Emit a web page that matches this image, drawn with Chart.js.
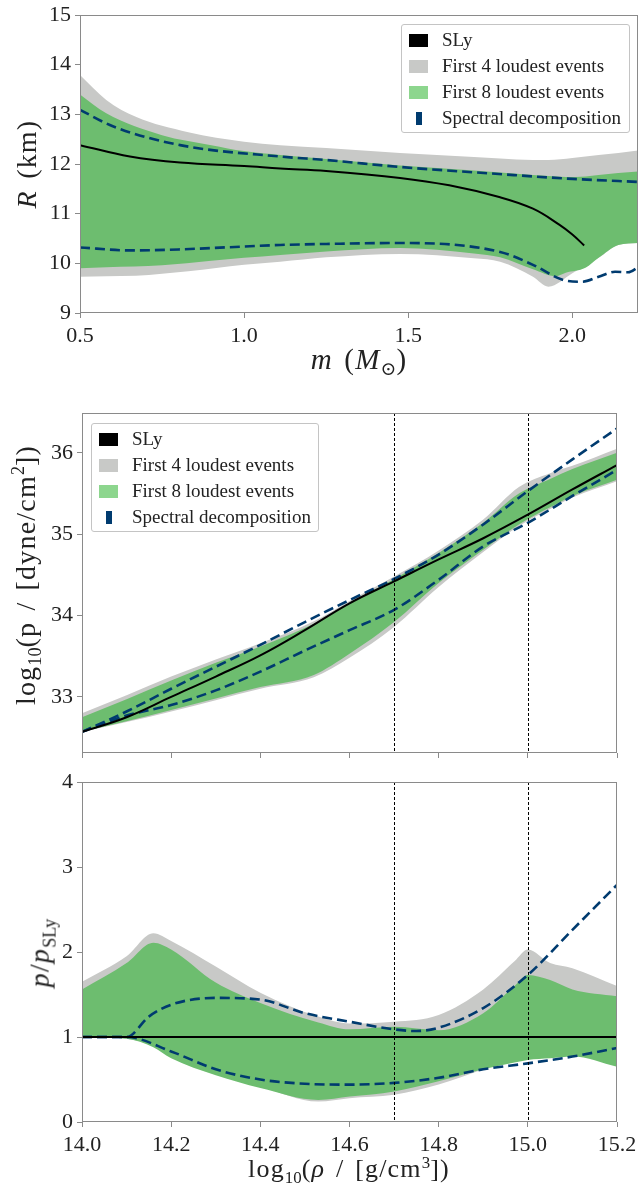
<!DOCTYPE html>
<html>
<head>
<meta charset="utf-8">
<script src="https://cdn.jsdelivr.net/npm/chart.js@4.4.0/dist/chart.umd.min.js"></script>
<style>
  body { margin: 0; background: #fff; width: 639px; height: 1188px; position: relative; overflow: hidden;
         font-family: 'Liberation Serif', 'DejaVu Serif', serif; color: #222; }
  canvas { position: absolute; left: 0; }
  .lbl { position: absolute; white-space: nowrap; transform: translate(-50%, -50%); line-height: 1;
         letter-spacing: 1.2px; word-spacing: 3px; }
  .rot { transform: translate(-50%, -50%) rotate(-90deg); }
  .lbl sub, .lbl sup { font-size: 65%; letter-spacing: 0; }
  .legend { position: absolute; border: 1px solid #c4c4c4; border-radius: 3px; background: rgba(255,255,255,0.85);
            font-size: 19px; box-sizing: border-box; }
  .row { position: absolute; left: 0; height: 20px; line-height: 20px; white-space: nowrap; }
  .patch { position: absolute; top: 4px; height: 13px; }
  .txt { position: absolute; left: 33px; }
</style>
</head>
<body>
<canvas id="mr" width="639" height="390" style="top:0"></canvas>
<canvas id="eos" width="639" height="365" style="top:400px"></canvas>
<canvas id="ratio" width="639" height="423" style="top:765px"></canvas>

<div class="lbl rot" style="left:27px;top:164px;font-size:28px"><i>R</i> (km)</div>
<div class="lbl" style="left:359px;top:362px;font-size:29px"><i>m</i> (<i>M</i><sub>⊙</sub>)</div>
<div class="lbl rot" style="left:27px;top:575px;font-size:28px">log<sub>10</sub>(p / [dyne/cm<sup>2</sup>])</div>
<div class="lbl rot" style="left:42px;top:953px;font-size:28px"><i>p</i>/<i>p</i><sub>SLy</sub></div>
<div class="lbl" style="left:349px;top:1171px;font-size:26px">log<sub>10</sub>(<i>ρ</i> / [g/cm<sup>3</sup>])</div>

<div class="legend" id="legTop" style="left:401px;top:24px;width:229px;height:109px"></div>
<div class="legend" id="legMid" style="left:91px;top:423px;width:228px;height:109px"></div>

<script>
// ---- legend ----
const legendLabels = ['SLy', 'First 4 loudest events', 'First 8 loudest events', 'Spectral decomposition'];
const legendColors = ['#000000', '#c8c9c7', '#8dd68e', '#003b6f'];

// ---- top panel: mass-radius ----
const massTicks = [0.5, 1.0, 1.5, 2.0];
const radiusTicks = [9, 10, 11, 12, 13, 14, 15];

const slyMass   = [0.5, 0.652, 0.805, 1.0, 1.11, 1.25, 1.475, 1.625, 1.78, 1.88, 1.96, 2.0, 2.036];
const slyRadius = [12.38, 12.15, 12.03, 11.96, 11.91, 11.86, 11.72, 11.57, 11.33, 11.10, 10.78, 10.58, 10.36];

const grayMass  = [0.5, 0.58, 0.67, 0.83, 1.0, 1.11, 1.25, 1.475, 1.7, 1.78, 1.88, 1.927, 2.0, 2.08, 2.14, 2.2];
const grayRUp   = [13.79, 13.29, 12.95, 12.64, 12.45, 12.38, 12.32, 12.22, 12.14, 12.11, 12.08, 12.08, 12.12, 12.18, 12.22, 12.27];
const grayRLow  = [9.73, 9.74, 9.75, 9.84, 9.97, 10.03, 10.12, 10.19, 10.1, 10.03, 9.73, 9.53, 9.8, 10.11, 10.37, 10.41];

const greenMass = [0.5, 0.58, 0.75, 0.9, 1.0, 1.11, 1.25, 1.475, 1.7, 1.78, 1.88, 1.95, 1.98, 2.04, 2.08, 2.14, 2.2];
const greenRUp  = [13.40, 13.02, 12.58, 12.38, 12.26, 12.18, 12.1, 11.97, 11.87, 11.83, 11.78, 11.75, 11.74, 11.75, 11.78, 11.82, 11.85];
const greenRLow = [9.90, 9.92, 9.96, 10.05, 10.11, 10.17, 10.24, 10.31, 10.2, 10.12, 9.88, 9.74, 9.81, 9.91, 10.11, 10.37, 10.41];

const specUpMass  = [0.5, 0.6, 0.805, 1.11, 1.25, 1.475, 1.75, 2.0, 2.2];
const specUpR     = [13.09, 12.76, 12.38, 12.15, 12.08, 11.94, 11.81, 11.70, 11.64];
const specLowMass = [0.5, 0.652, 0.8, 1.11, 1.25, 1.475, 1.78, 1.88, 1.97, 2.03, 2.08, 2.13, 2.17, 2.2];
const specLowR    = [10.32, 10.26, 10.28, 10.37, 10.39, 10.41, 10.23, 9.97, 9.67, 9.63, 9.73, 9.83, 9.82, 9.92];

// ---- middle panel: log pressure vs log density ----
const rhoTicks = [14.0, 14.2, 14.4, 14.6, 14.8, 15.0, 15.2];
const logpTicks = [33, 34, 35, 36];
const rhoMarks = [14.7, 15.0];

const rhoGrid = [14.0, 14.1, 14.2, 14.3, 14.4, 14.5, 14.6, 14.7, 14.8, 14.9, 15.0, 15.1, 15.2];
const slyLogP = [32.57, 32.75, 33.0, 33.25, 33.51, 33.82, 34.15, 34.42, 34.69, 34.95, 35.24, 35.55, 35.85];
const specUpLogP  = [32.57, 32.82, 33.1, 33.37, 33.64, 33.92, 34.19, 34.45, 34.75, 35.12, 35.53, 35.92, 36.3];
const specLowLogP = [32.57, 32.77, 32.9, 33.08, 33.31, 33.57, 33.82, 34.07, 34.44, 34.85, 35.14, 35.47, 35.79];

const bandRho = [14.0, 14.1, 14.2, 14.3, 14.4, 14.52, 14.6, 14.7, 14.8, 14.9, 14.98, 15.05, 15.1, 15.2];
const grayLogPUp   = [32.8, 33.02, 33.25, 33.46, 33.66, 33.93, 34.18, 34.48, 34.8, 35.18, 35.58, 35.75, 35.84, 36.05];
const grayLogPLow  = [32.57, 32.69, 32.82, 32.96, 33.1, 33.24, 33.48, 33.86, 34.35, 34.78, 35.1, 35.31, 35.45, 35.65];
const greenLogPUp  = [32.75, 32.97, 33.2, 33.42, 33.62, 33.9, 34.15, 34.45, 34.77, 35.14, 35.5, 35.68, 35.8, 36.0];
const greenLogPLow = [32.57, 32.7, 32.84, 32.98, 33.12, 33.27, 33.53, 33.92, 34.4, 34.81, 35.12, 35.33, 35.47, 35.67];

// ---- bottom panel: p / p_SLy ----
const ratioTicks = [0, 1, 2, 3, 4];
const slyRatioRho = [14.0, 15.2];
const slyRatio = [1, 1];

const ratioRho = [14.0, 14.1, 14.16, 14.2, 14.3, 14.4, 14.53, 14.6, 14.7, 14.8, 14.9, 14.97, 15.0, 15.05, 15.1, 15.2];
const grayRatioUp   = [1.65, 1.95, 2.22, 2.13, 1.83, 1.52, 1.24, 1.16, 1.18, 1.26, 1.56, 1.89, 2.03, 1.87, 1.81, 1.6];
const grayRatioLow  = [1.0, 0.98, 0.9, 0.78, 0.6, 0.42, 0.24, 0.28, 0.32, 0.44, 0.62, 0.74, 0.79, 0.8, 0.81, 0.67];
const greenRatioUp  = [1.56, 1.87, 2.11, 2.03, 1.64, 1.4, 1.17, 1.09, 1.12, 1.08, 1.28, 1.6, 1.73, 1.67, 1.56, 1.48];
const greenRatioLow = [1.0, 0.98, 0.88, 0.75, 0.55, 0.4, 0.26, 0.3, 0.36, 0.48, 0.62, 0.7, 0.73, 0.75, 0.77, 0.65];

const specUpRatioRho = [14.0, 14.1, 14.15, 14.2, 14.3, 14.4, 14.5, 14.6, 14.7, 14.75, 14.8, 14.9, 15.0, 15.1, 15.2];
const specUpRatio    = [1.0, 1.0, 1.24, 1.38, 1.46, 1.44, 1.28, 1.18, 1.09, 1.07, 1.11, 1.34, 1.73, 2.26, 2.79];
const specLowRatio   = [1.0, 1.0, 0.83, 0.62, 0.5, 0.45, 0.44, 0.46, 0.52, 0.62, 0.69, 0.77, 0.87];

// colours
const GRAY = 'rgb(200,201,199)';
const GREEN = 'rgb(109,189,111)';
const NAVY = '#003b6f';
const FONT = "'Liberation Serif', 'DejaVu Serif', serif";
const SPINE = '#8a8a8a';

function pts(xs, ys) { return xs.map((x, i) => ({ x: x, y: ys[i] })); }

// build legend boxes
function buildLegend(id) {
  const el = document.getElementById(id);
  legendLabels.forEach((t, i) => {
    const row = document.createElement('div');
    row.className = 'row';
    row.style.top = (5 + i * 26) + 'px';
    row.style.left = '7px';
    const p = document.createElement('div');
    p.className = 'patch';
    p.style.background = legendColors[i];
    if (i === 3) { p.style.left = '7px'; p.style.width = '6px'; }
    else { p.style.left = '0px'; p.style.width = '19px'; }
    const s = document.createElement('span');
    s.className = 'txt';
    s.textContent = t;
    row.appendChild(p); row.appendChild(s);
    el.appendChild(row);
  });
}
buildLegend('legTop');
buildLegend('legMid');

// spines on all four sides + vertical marker lines
const framePlugin = {
  id: 'frame',
  afterDatasetsDraw(chart, args, opts) {
    const { ctx, chartArea: a, scales } = chart;
    ctx.save();
    if (opts.marks) {
      ctx.strokeStyle = '#000';
      ctx.lineWidth = 1;
      ctx.setLineDash([3, 2]);
      opts.marks.forEach(v => {
        const x = Math.round(scales.x.getPixelForValue(v)) + 0.5;
        ctx.beginPath(); ctx.moveTo(x, a.top); ctx.lineTo(x, a.bottom); ctx.stroke();
      });
      ctx.setLineDash([]);
    }
    ctx.strokeStyle = SPINE;
    ctx.lineWidth = 1;
    ctx.strokeRect(a.left + 0.5, a.top + 0.5, a.right - a.left - 1, a.bottom - a.top - 1);
    ctx.restore();
  }
};

function bandSets(xs, up, low, color) {
  return [
    { data: pts(xs, up), borderWidth: 0, borderColor: 'transparent', backgroundColor: color, fill: '+1' },
    { data: pts(xs, low), borderWidth: 0, borderColor: 'transparent', fill: false }
  ];
}

function makeChart(id, cfg) {
  const datasets = [
    { data: pts(cfg.slyX, cfg.slyY), borderColor: '#000', borderWidth: 2, fill: false,
      cubicInterpolationMode: 'default', tension: 0.4 },
    { data: pts(cfg.suX, cfg.suY), borderColor: NAVY, borderWidth: 2.6, borderDash: [10, 5], fill: false },
    { data: pts(cfg.slX, cfg.slY), borderColor: NAVY, borderWidth: 2.6, borderDash: [10, 5], fill: false },
    ...bandSets(cfg.greenX, cfg.greenUp, cfg.greenLow, GREEN),
    ...bandSets(cfg.grayX, cfg.grayUp, cfg.grayLow, GRAY)
  ];
  return new Chart(document.getElementById(id), {
    type: 'line',
    data: { datasets: datasets },
    options: {
      responsive: false,
      animation: false,
      devicePixelRatio: 1,
      layout: { padding: cfg.padding },
      elements: { point: { radius: 0 }, line: { cubicInterpolationMode: 'monotone' } },
      plugins: { legend: { display: false }, tooltip: { enabled: false }, frame: { marks: cfg.marks } },
      scales: {
        x: {
          type: 'linear', min: cfg.xMin, max: cfg.xMax,
          afterBuildTicks: s => { s.ticks = cfg.xTicks.map(v => ({ value: v })); },
          afterFit: s => { s.height = cfg.xHeight; s.paddingLeft = 0; s.paddingRight = 0; },
          border: { display: false },
          grid: { drawOnChartArea: false, drawTicks: true, tickLength: 5, color: SPINE },
          ticks: {
            display: cfg.xLabels, padding: 5, color: '#222',
            font: { family: FONT, size: 22 },
            callback: v => v.toFixed(1)
          }
        },
        y: {
          type: 'linear', min: cfg.yMin, max: cfg.yMax,
          afterBuildTicks: s => { s.ticks = cfg.yTicks.map(v => ({ value: v })); },
          afterFit: s => { s.width = cfg.yWidth; s.paddingTop = 0; s.paddingBottom = 0; },
          border: { display: false },
          grid: { drawOnChartArea: false, drawTicks: true, tickLength: 5, color: SPINE },
          ticks: { padding: 4, color: '#222', font: { family: FONT, size: 22 }, callback: v => String(v) }
        }
      }
    },
    plugins: [framePlugin]
  });
}

makeChart('mr', {
  slyX: slyMass, slyY: slyRadius,
  suX: specUpMass, suY: specUpR, slX: specLowMass, slY: specLowR,
  greenX: greenMass, greenUp: greenRUp, greenLow: greenRLow,
  grayX: grayMass, grayUp: grayRUp, grayLow: grayRLow,
  xMin: 0.5, xMax: 2.2, yMin: 9, yMax: 15,
  xTicks: massTicks, yTicks: radiusTicks, xLabels: true,
  padding: { top: 15, right: 1, left: 0, bottom: 0 }, xHeight: 77, yWidth: 80
});

makeChart('eos', {
  slyX: rhoGrid, slyY: slyLogP,
  suX: rhoGrid, suY: specUpLogP, slX: rhoGrid, slY: specLowLogP,
  greenX: bandRho, greenUp: greenLogPUp, greenLow: greenLogPLow,
  grayX: bandRho, grayUp: grayLogPUp, grayLow: grayLogPLow,
  xMin: 14.0, xMax: 15.2, yMin: 32.31, yMax: 36.49,
  xTicks: rhoTicks, yTicks: logpTicks, xLabels: false, marks: rhoMarks,
  padding: { top: 13, right: 22, left: 0, bottom: 0 }, xHeight: 12, yWidth: 82
});

makeChart('ratio', {
  slyX: slyRatioRho, slyY: slyRatio,
  suX: specUpRatioRho, suY: specUpRatio, slX: rhoGrid, slY: specLowRatio,
  greenX: ratioRho, greenUp: greenRatioUp, greenLow: greenRatioLow,
  grayX: ratioRho, grayUp: grayRatioUp, grayLow: grayRatioLow,
  xMin: 14.0, xMax: 15.2, yMin: 0, yMax: 4,
  xTicks: rhoTicks, yTicks: ratioTicks, xLabels: true, marks: rhoMarks,
  padding: { top: 17, right: 22, left: 0, bottom: 0 }, xHeight: 66, yWidth: 82
});
</script>
</body>
</html>
